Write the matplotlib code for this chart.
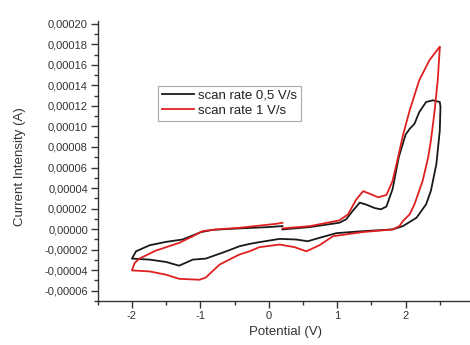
import matplotlib
matplotlib.use("Agg")
import matplotlib.pyplot as plt
from matplotlib.ticker import MultipleLocator, FuncFormatter

plt.rcParams['font.family'] = ['Liberation Sans', 'DejaVu Sans']

# Black curve: scan rate 0,5 V/s  (potential V, current in 1e-5 A)
black_v = [0.2, 0.6, 1.03, 1.13, 1.23, 1.33, 1.42, 1.55, 1.64, 1.72, 1.81, 1.9, 2.0, 2.06,
           2.13, 2.2, 2.3, 2.4, 2.5, 2.51, 2.5, 2.45, 2.37, 2.3, 2.16, 1.96, 1.81, 1.37, 0.99,
           0.74, 0.57, 0.40, 0.16, -0.14, -0.28, -0.43, -0.62, -0.92, -1.11, -1.31, -1.5,
           -1.74, -2.0, -1.94, -1.74, -1.5, -1.26, -0.99, -0.82, -0.43, 0.0, 0.2]
black_i = [-0.03, 0.2, 0.62, 0.95, 1.8, 2.58, 2.4, 2.05, 1.93, 2.2, 3.9, 7.0, 9.2, 9.77,
           10.26, 11.4, 12.38, 12.55, 12.38, 11.89, 9.6, 6.34, 3.73, 2.42, 1.11, 0.29, -0.03,
           -0.2, -0.39, -0.85, -1.18, -1.01, -0.95, -1.27, -1.44, -1.67, -2.16, -2.87, -2.97,
           -3.56, -3.2, -2.97, -2.87, -2.16, -1.57, -1.24, -1.01, -0.29, -0.07, 0.07, 0.2, 0.3]

# Red curve: scan rate 1 V/s
red_v = [0.2, 0.6, 1.03, 1.16, 1.28, 1.38, 1.47, 1.6, 1.72, 1.79, 1.81, 1.89, 1.96, 2.06,
         2.2, 2.35, 2.5, 2.5, 2.47, 2.42, 2.37, 2.33, 2.25, 2.13, 2.06, 1.96, 1.91, 1.81,
         1.37, 0.94, 0.74, 0.55, 0.38, 0.16, -0.14, -0.28, -0.43, -0.53, -0.72, -0.92,
         -1.01, -1.31, -1.5, -1.74, -2.0, -1.96, -1.89, -1.65, -1.31, -1.11, -0.97, -0.77,
         -0.43, 0.11, 0.2]
red_i = [0.07, 0.29, 0.85, 1.44, 2.9, 3.7, 3.46, 3.1, 3.33, 4.38, 4.71, 6.99, 9.1, 11.57,
         14.51, 16.47, 17.77, 17.65, 14.51, 11.25, 8.63, 6.99, 4.71, 2.42, 1.44, 0.78, 0.29,
         -0.03, -0.29, -0.69, -1.57, -2.16, -1.76, -1.5, -1.76, -2.16, -2.48, -2.81, -3.46,
         -4.71, -4.93, -4.84, -4.44, -4.12, -4.02, -3.3, -2.87, -2.09, -1.34, -0.69, -0.2,
         -0.03, 0.13, 0.52, 0.62]

labels = ["scan rate 0,5 V/s", "scan rate 1 V/s"]
colors = ["#1a1a1a", "#e02020"]

W, H = 470, 345
fig = plt.figure(figsize=(W / 100, H / 100), dpi=100)
left, right, top, bottom = 97.7, 474.0, 20.7, 301.0
ax = fig.add_axes([left / W, 1 - bottom / H, (right - left) / W, (bottom - top) / H])

scale = 1e-5
ax.plot(black_v, [v * scale for v in black_i], color=colors[0], lw=1.3, label=labels[0])
ax.plot(red_v, [v * scale for v in red_i], color=colors[1], lw=1.3, label=labels[1])

ax.set_xlim(-2.5, 3.0)
ax.set_ylim(-0.00007, 0.000203)

for s in ["top", "right"]:
    ax.spines[s].set_visible(False)
for s in ["left", "bottom"]:
    ax.spines[s].set_color("#333333")
    ax.spines[s].set_linewidth(1.0)

ax.xaxis.set_major_locator(MultipleLocator(1))
ax.xaxis.set_minor_locator(MultipleLocator(0.5))
ax.yaxis.set_major_locator(MultipleLocator(0.00002))
ax.yaxis.set_minor_locator(MultipleLocator(0.00001))
ax.yaxis.set_major_formatter(FuncFormatter(lambda v, p: ("%.5f" % v).replace(".", ",").replace("-0,00000", "0,00000")))
ax.xaxis.set_major_formatter(FuncFormatter(lambda v, p: "%d" % round(v)))

ax.tick_params(which="major", direction="out", length=5, width=1.0, color="#333333",
               labelsize=8, labelcolor="#333333", pad=2)
ax.tick_params(which="minor", direction="out", length=3, width=1.0, color="#333333")

ax.set_xlabel("Potential (V)", fontsize=9.5, color="#333333", labelpad=4)
ax.set_ylabel("Current Intensity (A)", fontsize=9.5, color="#333333")
ax.yaxis.set_label_coords(-0.19, 0.48)

leg = ax.legend(loc="upper left", bbox_to_anchor=(158.3 / W, 1 - 86 / H),
                bbox_transform=fig.transFigure, borderaxespad=0, fontsize=9.5,
                handlelength=2.4, handletextpad=0.35, labelspacing=0.2, borderpad=0.28,
                fancybox=False, framealpha=1, edgecolor="#aaaaaa")
leg.get_frame().set_linewidth(0.8)
for t in leg.get_texts():
    t.set_color("#222222")

fig.savefig("out.png", dpi=100)
